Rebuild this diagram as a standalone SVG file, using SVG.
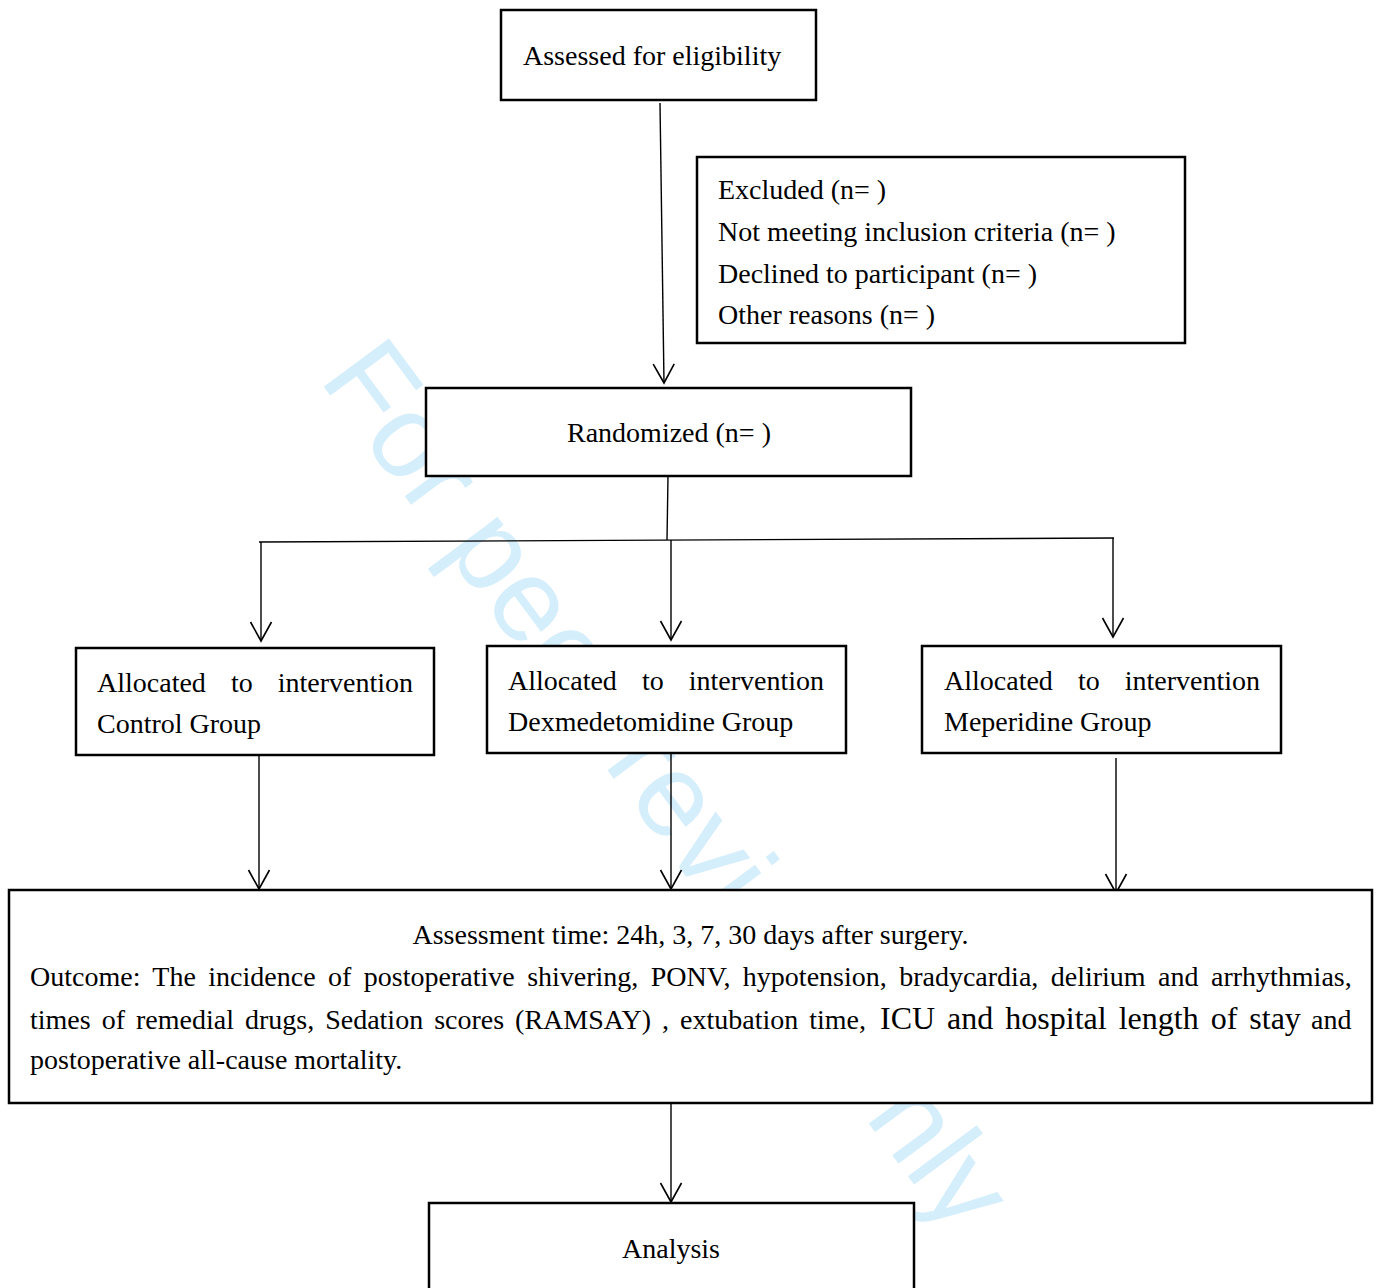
<svg xmlns="http://www.w3.org/2000/svg" width="1378" height="1288" viewBox="0 0 1378 1288">
<style>
.box{fill:#fff;stroke:#000;stroke-width:2.5}
.t{font-family:"Liberation Serif","Times New Roman",serif;font-size:28px;fill:#000}
.c{fill:none;stroke:#000;stroke-width:1.4}
.wm{font-family:"Liberation Sans",Arial,sans-serif;font-size:118px;fill:#d5eefc}
</style>
<defs>
<marker id="ah" markerUnits="userSpaceOnUse" markerWidth="30" markerHeight="30" refX="0" refY="0" orient="auto" overflow="visible">
<path d="M-19,-10.5 L0,0 L-19,10.5" fill="none" stroke="#000" stroke-width="1.6"/>
</marker>
</defs>
<rect width="1378" height="1288" fill="#fff"/>
<text class="wm" transform="translate(318,379) rotate(53.5)">For peer review only</text>

<g id="connectors">
<line class="c" x1="660" y1="103" x2="664" y2="383" marker-end="url(#ah)"/>
<line class="c" x1="668" y1="476" x2="667" y2="540"/>
<line class="c" x1="259" y1="542" x2="1114" y2="538"/>
<line class="c" x1="261" y1="542" x2="261" y2="641" marker-end="url(#ah)"/>
<line class="c" x1="671" y1="540" x2="671" y2="640" marker-end="url(#ah)"/>
<line class="c" x1="1113" y1="538" x2="1113" y2="637" marker-end="url(#ah)"/>
<line class="c" x1="259" y1="755" x2="259" y2="889" marker-end="url(#ah)"/>
<line class="c" x1="671" y1="753" x2="671" y2="889" marker-end="url(#ah)"/>
<line class="c" x1="1116" y1="758" x2="1116" y2="893" marker-end="url(#ah)"/>
<line class="c" x1="671" y1="1103" x2="671" y2="1202" marker-end="url(#ah)"/>
</g>

<g id="assessed">
<rect class="box" x="501" y="10" width="315" height="90"/>
<text class="t" x="523" y="65">Assessed for eligibility</text>
</g>

<g id="excluded">
<rect class="box" x="697" y="157" width="488" height="186"/>
<text class="t" x="718" y="199">Excluded (n= )</text>
<text class="t" x="718" y="241">Not meeting inclusion criteria (n= )</text>
<text class="t" x="718" y="283">Declined to participant (n= )</text>
<text class="t" x="718" y="324">Other reasons (n= )</text>
</g>

<g id="randomized">
<rect class="box" x="426" y="388" width="485" height="88"/>
<text class="t" x="669" y="442" text-anchor="middle">Randomized (n= )</text>
</g>

<g id="control">
<rect class="box" x="76" y="648" width="358" height="107"/>
<text class="t" y="692"><tspan x="97">Allocated</tspan><tspan x="231">to</tspan><tspan x="277.7">intervention</tspan></text>
<text class="t" x="97" y="733">Control Group</text>
</g>

<g id="dexmedetomidine">
<rect class="box" x="487" y="646" width="359" height="107"/>
<text class="t" y="690"><tspan x="508">Allocated</tspan><tspan x="642">to</tspan><tspan x="688.7">intervention</tspan></text>
<text class="t" x="508" y="731">Dexmedetomidine Group</text>
</g>

<g id="meperidine">
<rect class="box" x="922" y="646" width="359" height="107"/>
<text class="t" y="690"><tspan x="944">Allocated</tspan><tspan x="1078">to</tspan><tspan x="1124.7">intervention</tspan></text>
<text class="t" x="944" y="731">Meperidine Group</text>
</g>

<g id="outcome">
<rect class="box" x="9" y="890" width="1363" height="213"/>
<text class="t" x="690.5" y="944" text-anchor="middle">Assessment time: 24h, 3, 7, 30 days after surgery.</text>
<text class="t" x="30" y="986" word-spacing="5.45">Outcome: The incidence of postoperative shivering, PONV, hypotension, bradycardia, delirium and arrhythmias,</text>
<text class="t" y="1029" word-spacing="4"><tspan x="30">times of remedial drugs, Sedation scores (RAMSAY) , extubation time,</tspan><tspan x="880" font-size="32">ICU and hospital length of stay</tspan><tspan x="1311">and</tspan></text>
<text class="t" x="30" y="1069">postoperative all-cause mortality.</text>
</g>

<g id="analysis">
<rect class="box" x="429" y="1203" width="485" height="100"/>
<text class="t" x="671" y="1258" text-anchor="middle">Analysis</text>
</g>
</svg>
